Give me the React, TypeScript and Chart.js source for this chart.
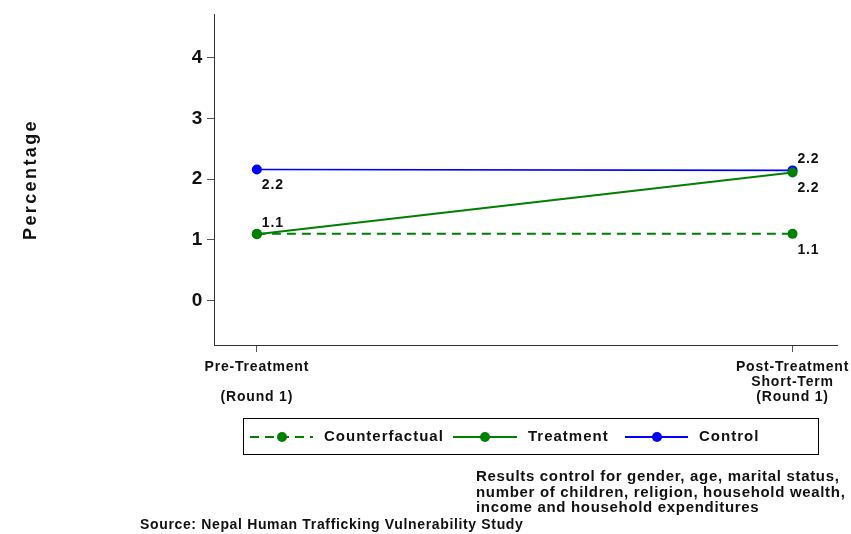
import React, { useEffect, useRef } from "react";
import { Chart, registerables } from "chart.js";

Chart.register(...registerables);

const categories = [["Pre-Treatment", "", "(Round 1)"], ["Post-Treatment", "Short-Term", "(Round 1)"]];
const xPositions = [0, 1];
const counterfactual = [1.1, 1.1];
const treatment = [1.094, 2.11];
const control = [2.16, 2.145];
const counterfactualLabels = ["", "1.1"];
const treatmentLabels = ["1.1", "2.2"];
const controlLabels = ["2.2", "2.2"];
const yTicks = [0, 1, 2, 3, 4];
const yTitle = "Percentage";
const noteLines = [
  "Results control for gender, age, marital status,",
  "number of children, religion, household wealth,",
  "income and household expenditures",
];
const sourceText = "Source: Nepal Human Trafficking Vulnerability Study";

const GREEN = "#008000";
const BLUE = "#0000ff";
const FONT = "'Liberation Sans', Arial, Helvetica, sans-serif";

// label placement: "above" or "below" per point
const counterfactualPlace = ["below", "below"];
const treatmentPlace = ["above", "below"];
const controlPlace = ["below", "above"];

export default function App() {
  const ref = useRef<HTMLCanvasElement | null>(null);
  useEffect(() => {
    const canvas = ref.current!;
    const mk = (vals: number[]) => vals.map((v, i) => ({ x: xPositions[i], y: v }));

    const labelPlugin = {
      id: "pointLabels",
      afterDatasetsDraw(chart: any) {
        const ctx = chart.ctx as CanvasRenderingContext2D;
        const sets = [
          { idx: 0, labels: counterfactualLabels, place: counterfactualPlace },
          { idx: 1, labels: treatmentLabels, place: treatmentPlace },
          { idx: 2, labels: controlLabels, place: controlPlace },
        ];
        ctx.save();
        (ctx as any).letterSpacing = "0.8px";
        ctx.font = `bold 14px ${FONT}`;
        ctx.fillStyle = "#111";
        ctx.textAlign = "left";
        ctx.textBaseline = "middle";
        sets.forEach((s) => {
          const meta = chart.getDatasetMeta(s.idx);
          meta.data.forEach((pt: any, i: number) => {
            const t = s.labels[i];
            if (!t) return;
            const dy = s.place[i] === "above" ? -11 : 16;
            ctx.fillText(t, pt.x + 5, pt.y + dy);
          });
        });
        ctx.restore();
      },
    };

    const decoPlugin = {
      id: "deco",
      beforeDraw(chart: any) {
        const ctx = chart.ctx as CanvasRenderingContext2D;
        ctx.save();
        ctx.fillStyle = "#fff";
        ctx.fillRect(0, 0, chart.width, chart.height);
        ctx.restore();
        (ctx as any).letterSpacing = "0.8px";
      },
      afterDraw(chart: any) {
        const ctx = chart.ctx as CanvasRenderingContext2D;
        const area = chart.chartArea;
        ctx.save();
        // y title
        (ctx as any).letterSpacing = "2.4px";
        ctx.font = `bold 18px ${FONT}`;
        ctx.fillStyle = "#111";
        ctx.textAlign = "center";
        ctx.textBaseline = "middle";
        ctx.translate(31, (area.top + area.bottom) / 2);
        ctx.rotate(-Math.PI / 2);
        ctx.fillText(yTitle, 0, 0);
        ctx.restore();

        // legend
        ctx.save();
        const bx = 243, by = 418, bw = 575, bh = 36;
        ctx.strokeStyle = "#000";
        ctx.lineWidth = 1;
        ctx.strokeRect(bx + 0.5, by + 0.5, bw, bh);
        const cy = by + bh / 2 + 1;
        const items = [
          { x0: 250, x1: 313, dot: 282, text: 324, color: GREEN, dash: [9, 6], label: chart.data.datasets[0].label },
          { x0: 453, x1: 517, dot: 485, text: 528, color: GREEN, dash: [], label: chart.data.datasets[1].label },
          { x0: 625, x1: 688, dot: 657, text: 699, color: BLUE, dash: [], label: chart.data.datasets[2].label },
        ];
        items.forEach((it) => {
          ctx.strokeStyle = it.color;
          ctx.lineWidth = 2;
          ctx.setLineDash(it.dash);
          ctx.beginPath();
          ctx.moveTo(it.x0, cy);
          ctx.lineTo(it.x1, cy);
          ctx.stroke();
          ctx.setLineDash([]);
          ctx.fillStyle = it.color;
          ctx.beginPath();
          ctx.arc(it.dot, cy, 5, 0, Math.PI * 2);
          ctx.fill();
          (ctx as any).letterSpacing = "1px";
          ctx.font = `bold 15px ${FONT}`;
          ctx.fillStyle = "#111";
          ctx.textAlign = "left";
          ctx.textBaseline = "middle";
          ctx.fillText(it.label, it.text, cy);
        });
        ctx.restore();

        // notes
        ctx.save();
        (ctx as any).letterSpacing = "0.68px";
        ctx.font = `bold 15px ${FONT}`;
        ctx.fillStyle = "#111";
        ctx.textAlign = "left";
        ctx.textBaseline = "middle";
        noteLines.forEach((l, i) => ctx.fillText(l, 476, 477 + i * 15.5));
        (ctx as any).letterSpacing = "0.65px";
        ctx.font = `bold 14px ${FONT}`;
        ctx.fillText(sourceText, 140, 525);
        ctx.restore();
      },
    };

    const chart = new Chart(canvas, {
      type: "line",
      data: {
        datasets: [
          {
            label: "Counterfactual",
            data: mk(counterfactual),
            borderColor: GREEN,
            backgroundColor: GREEN,
            borderWidth: 2,
            borderDash: [9, 6],
            pointRadius: 5,
            pointBorderWidth: 0,
            pointBackgroundColor: GREEN,
            order: 2,
          },
          {
            label: "Treatment",
            data: mk(treatment),
            borderColor: GREEN,
            backgroundColor: GREEN,
            borderWidth: 2,
            pointRadius: 5,
            pointBorderWidth: 0,
            pointBackgroundColor: GREEN,
            order: 1,
          },
          {
            label: "Control",
            data: mk(control),
            borderColor: BLUE,
            backgroundColor: BLUE,
            borderWidth: 1.7,
            pointRadius: 5,
            pointBorderWidth: 0,
            pointBackgroundColor: BLUE,
            order: 3,
          },
        ],
      },
      options: {
        animation: false,
        responsive: false,
        events: [],
        layout: { padding: { top: 14, right: 14, left: 0, bottom: 0 } },
        plugins: { legend: { display: false }, tooltip: { enabled: false } },
        scales: {
          x: {
            type: "linear",
            min: -0.08,
            max: 1.083,
            afterBuildTicks: (s: any) => {
              s.ticks = xPositions.map((v) => ({ value: v }));
            },
            afterFit: (s: any) => {
              s.height = 534 - 345;
              s.paddingLeft = 0;
              s.paddingRight = 0;
            },
            grid: { display: true, drawOnChartArea: false, drawTicks: true, tickLength: 7, color: "#555", lineWidth: 1 },
            border: { display: true, color: "#333", width: 1 },
            ticks: {
              autoSkip: false,
              maxRotation: 0,
              padding: 8,
              color: "#111",
              font: { family: FONT, size: 14, weight: "bold", lineHeight: 1.07 },
              callback: (v: any) => categories[xPositions.indexOf(Number(v))] ?? "",
            },
          },
          y: {
            min: -0.73,
            max: 4.72,
            afterBuildTicks: (s: any) => {
              s.ticks = yTicks.map((v) => ({ value: v }));
            },
            afterFit: (s: any) => {
              s.width = 214;
              s.paddingTop = 0;
              s.paddingBottom = 0;
            },
            grid: { display: true, drawOnChartArea: false, drawTicks: true, tickLength: 7, color: "#555", lineWidth: 1 },
            border: { display: true, color: "#333", width: 1 },
            ticks: {
              padding: 4,
              color: "#111",
              font: { family: FONT, size: 19, weight: "bold" },
              callback: (v: any) => String(v),
            },
          },
        },
      },
      plugins: [decoPlugin, labelPlugin],
    } as any);
    return () => chart.destroy();
  }, []);
  return (
    <div style={{ position: "absolute", left: 0, top: 0, width: 851, height: 534 }}>
      <canvas ref={ref} width={851} height={534} style={{ display: "block" }} />
    </div>
  );
}
